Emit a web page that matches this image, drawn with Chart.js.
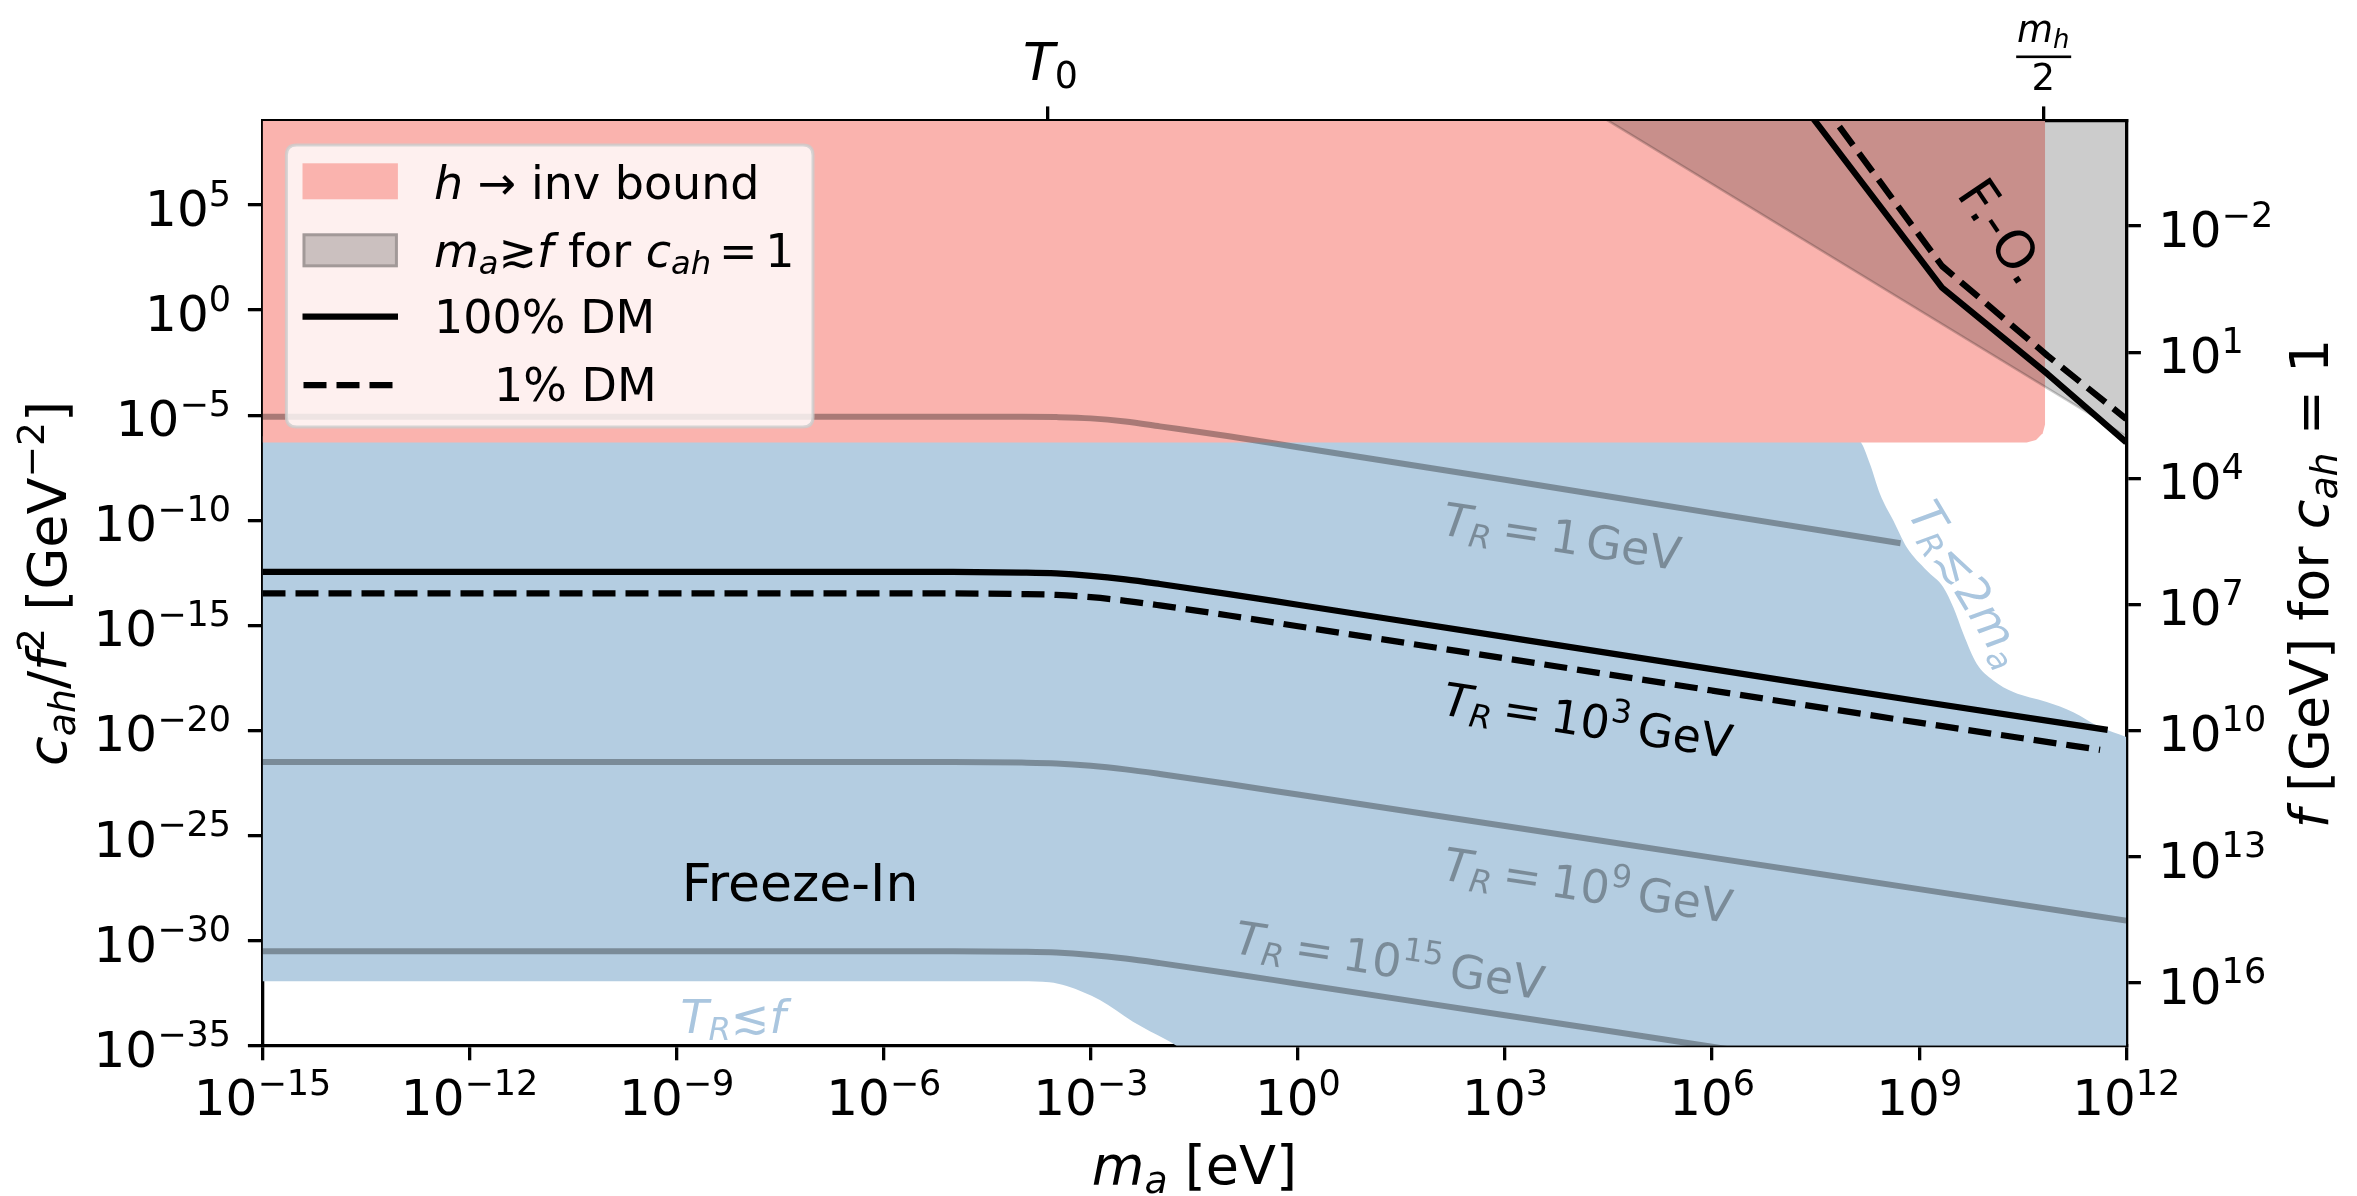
<!DOCTYPE html>
<html><head><meta charset="utf-8">
<script src="https://cdn.jsdelivr.net/npm/chart.js@4.4.1/dist/chart.umd.min.js"></script>
<style>html,body{margin:0;padding:0;background:#fff;overflow:hidden}canvas{display:block}</style>
</head><body>
<canvas id="c" width="2357" height="1196" style="width:2357px;height:1196px"></canvas>
<script>
// ---------- axis ticks ----------
const xTickValues = [1e-15, 1e-12, 1e-9, 1e-6, 1e-3, 1, 1e3, 1e6, 1e9, 1e12];
const xTickExps = ['−15', '−12', '−9', '−6', '−3', '0', '3', '6', '9', '12'];
const yTickValues = [1e5, 1, 1e-5, 1e-10, 1e-15, 1e-20, 1e-25, 1e-30, 1e-35];
const yTickExps = ['5', '0', '−5', '−10', '−15', '−20', '−25', '−30', '−35'];
const fTickValues = [1e4, 1e-2, 1e-8, 1e-14, 1e-20, 1e-26, 1e-32];
const fTickExps = ['−2', '1', '4', '7', '10', '13', '16'];
const topTickValues = [2.35e-4, 6.25e10];   // T0, m_h/2

// ---------- series ----------
const dm100X = [1e-15, 1e-5, 1e-4, 3.16e-4, 1e-3, 3.16e-3, 1e-2, 1e-1, 1, 1e3, 1e6, 1e9, 5.37e11];
const dm100Y = [3.47e-13, 3.47e-13, 3.24e-13, 2.95e-13, 2.29e-13, 1.55e-13, 9.33e-14, 3.09e-14, 9.55e-15, 2.82e-16, 8.32e-18, 2.45e-19, 1.07e-20];
const dm1X = [1e-15, 1e-5, 1e-4, 3.16e-4, 1e-3, 3.16e-3, 1e-2, 1e-1, 1, 1e3, 1e6, 1e9, 4.17e11];
const dm1Y = [3.31e-14, 3.31e-14, 3.09e-14, 2.82e-14, 2.19e-14, 1.48e-14, 8.91e-15, 2.95e-15, 9.12e-16, 2.69e-17, 7.94e-19, 2.34e-20, 1.20e-21];
const tr1X = [1e-15, 1e-5, 1e-4, 3.16e-4, 1e-3, 3.16e-3, 1e-2, 1e-1, 1, 1e3, 1e6, 5.37e8];
const tr1Y = [8.51e-6, 8.51e-6, 8.51e-6, 8.13e-6, 7.08e-6, 5.01e-6, 2.95e-6, 1.0e-6, 3.02e-7, 8.51e-9, 2.19e-10, 8.13e-12];
const tr9X = [1e-15, 1e-5, 1e-4, 3.16e-4, 1e-3, 3.16e-3, 1e-2, 1e-1, 1, 1e3, 1e6, 1e9, 1e12];
const tr9Y = [3.16e-22, 3.16e-22, 2.95e-22, 2.69e-22, 2.09e-22, 1.41e-22, 8.51e-23, 2.82e-23, 8.91e-24, 2.82e-25, 8.91e-27, 2.82e-28, 8.91e-30];
const tr15X = [1e-15, 1e-5, 1e-4, 3.16e-4, 1e-3, 3.16e-3, 1e-2, 1e-1, 1, 1e3, 1e6, 1e9];
const tr15Y = [3.16e-31, 3.16e-31, 2.95e-31, 2.69e-31, 2.09e-31, 1.41e-31, 8.51e-32, 2.82e-32, 8.91e-33, 2.82e-34, 8.91e-36, 2.82e-37];
const foSolidX = [1.82e7, 2.14e9, 7.24e10, 1e12];
const foSolidY = [1e10, 11.7, 9.12e-4, 5.13e-7];
const foDashX = [3.63e7, 2.14e9, 7.24e10, 1e12];
const foDashY = [1e10, 1.26e2, 6.76e-3, 6.61e-6];
const mafX = [1e4, 1e12];          // m_a >~ f boundary
const mafY = [1e10, 1e-6];
const hinvX = [1e-15, 3.61e10, 4.92e10, 6.15e10, 6.68e10];   // h -> inv lower edge
const hinvY = [5.1e-7, 5.1e-7, 6.61e-7, 1.38e-6, 3.80e-6];
const fiTopX = [1e-15, 1.122e8, 1.479e8, 1.936e8, 2.704e8, 4.217e8, 6.592e8, 1.285e9, 2.234e9, 3.119e9, 4.355e9, 6.808e9, 1.183e10, 2.307e10, 7.031e10, 1.706e11, 4.159e11, 1e12];
const fiTopY = [1e-6, 1e-6, 4.27e-7, 4.79e-8, 1.80e-9, 9.77e-11, 5.25e-12, 4.07e-13, 6.61e-14, 7.24e-15, 3.98e-16, 1.48e-17, 2.40e-18, 6.76e-19, 2.24e-19, 7.41e-20, 1.45e-20, 4.90e-21];
const fiBotX = [1e-15, 1e-4, 2.51e-4, 4.47e-4, 1.35e-3, 4.07e-3, 1.26e-2, 1e-1, 1e12];
const fiBotY = [1.175e-32, 1.175e-32, 1.047e-32, 6.92e-33, 1.48e-33, 1.38e-34, 1.86e-35, 5.0e-37, 5.0e-37];

// ---------- styles ----------
const FONT = '"DejaVu Sans", sans-serif';
const RED = 'rgb(250,179,174)';
const BLUE = 'rgb(180,205,225)';
const GREYREG = 'rgba(0,0,0,0.2)';
const TRGREY = 'rgba(0,0,0,0.32)';
const LIGHTBLUE = 'rgb(170,198,223)';
const LW = 6.25;

const pts = (xs, ys) => xs.map((x, i) => ({x: x, y: ys[i]}));

function setFont(ctx, size, it) { ctx.font = (it ? 'italic ' : '') + size + 'px ' + FONT; }
function pSize(p, size) { return (p.sub || p.sup) ? size * 0.7 : size; }
function richWidth(ctx, parts, size) {
  let w = 0;
  for (const p of parts) { setFont(ctx, pSize(p, size), p.it); w += ctx.measureText(p.t).width + (p.gap || 0) * size; }
  return w;
}
function drawRich(ctx, parts, x, y, size, color, align) {
  const w = richWidth(ctx, parts, size);
  let cx = align === 'center' ? x - w / 2 : (align === 'right' ? x - w : x);
  ctx.fillStyle = color; ctx.textAlign = 'left'; ctx.textBaseline = 'alphabetic';
  for (const p of parts) {
    setFont(ctx, pSize(p, size), p.it);
    const dy = p.sub ? 0.16 * size : (p.sup ? -0.41 * size : 0);
    ctx.fillText(p.t, cx, y + dy);
    cx += ctx.measureText(p.t).width + (p.gap || 0) * size;
  }
}
function drawRichRot(ctx, parts, cx, cy, size, color, deg) {
  ctx.save(); ctx.translate(cx, cy); ctx.rotate(deg * Math.PI / 180);
  drawRich(ctx, parts, 0, size * 0.36, size, color, 'center');
  ctx.restore();
}
const pow10 = (e) => [{t:'10'}, {t:e, sup:1}];
const TR = (num) => [{t:'T', it:1}, {t:'R', it:1, sub:1, gap:0.22}, {t:'=', gap:0.22}].concat(num);

const overlay = {
  id: 'overlay',
  afterDatasetsDraw(chart) {
    const ctx = chart.ctx;
    ctx.save();
    drawRich(ctx, [{t:'Freeze-In'}], 800, 901, 52, '#000', 'center');
    drawRichRot(ctx, TR([{t:'1', gap:0.14}, {t:'GeV'}]), 1562, 536, 46, TRGREY, 8.6);
    drawRichRot(ctx, TR([{t:'10'}, {t:'3', sup:1, gap:0.18}, {t:'GeV'}]), 1588, 720, 46, '#000', 8.6);
    drawRichRot(ctx, TR([{t:'10'}, {t:'9', sup:1, gap:0.18}, {t:'GeV'}]), 1588, 885, 46, TRGREY, 8.6);
    drawRichRot(ctx, TR([{t:'10'}, {t:'15', sup:1, gap:0.18}, {t:'GeV'}]), 1390, 960, 46, TRGREY, 8.6);
    drawRich(ctx, [{t:'T', it:1}, {t:'R', it:1, sub:1}, {t:'≲'}, {t:'f', it:1}], 733, 1033, 46, LIGHTBLUE, 'center');
    drawRichRot(ctx, [{t:'T', it:1}, {t:'R', it:1, sub:1}, {t:'≲'}, {t:'2'}, {t:'m', it:1}, {t:'a', it:1, sub:1}], 1968, 583, 46, LIGHTBLUE, 59);
    drawRichRot(ctx, [{t:'F.-O.'}], 2003, 231, 52, '#000', 56);
    ctx.restore();
  },
  afterDraw(chart) {
    const ctx = chart.ctx;
    const {x: xs, y: ys, y2: fs} = chart.scales;
    const area = chart.chartArea;
    ctx.save();
    // tick labels
    xTickValues.forEach((v, i) => drawRich(ctx, pow10(xTickExps[i]), xs.getPixelForValue(v), area.bottom + 69.3, 50, '#000', 'center'));
    yTickValues.forEach((v, i) => drawRich(ctx, pow10(yTickExps[i]), area.left - 31.5, ys.getPixelForValue(v) + 21, 50, '#000', 'right'));
    fTickValues.forEach((v, i) => drawRich(ctx, pow10(fTickExps[i]), area.right + 31.7, fs.getPixelForValue(v) + 21, 50, '#000', 'left'));
    // axis titles
    drawRich(ctx, [{t:'m', it:1}, {t:'a', it:1, sub:1}, {t:' [eV]'}], (area.left + area.right) / 2, 1184, 54, '#000', 'center');
    const cy = (area.top + area.bottom) / 2;
    ctx.save(); ctx.translate(66, cy); ctx.rotate(-Math.PI / 2);
    drawRich(ctx, [{t:'c', it:1}, {t:'ah', it:1, sub:1}, {t:'/'}, {t:'f', it:1}, {t:'2', sup:1}, {t:' [GeV'}, {t:'−2', sup:1}, {t:']'}], 0, 0, 54, '#000', 'center');
    ctx.restore();
    ctx.save(); ctx.translate(2328, cy); ctx.rotate(-Math.PI / 2);
    drawRich(ctx, [{t:'f', it:1}, {t:' [GeV] for '}, {t:'c', it:1}, {t:'ah', it:1, sub:1}, {t:' = 1'}], 0, 0, 54, '#000', 'center');
    ctx.restore();
    // top axis labels
    const t0 = xs.getPixelForValue(topTickValues[0]);
    drawRich(ctx, [{t:'T', it:1}, {t:'0', sub:1}], t0 + 3, 80, 52, '#000', 'center');
    const mh = xs.getPixelForValue(topTickValues[1]);
    drawRich(ctx, [{t:'m', it:1}, {t:'h', it:1, sub:1}], mh, 42, 37, '#000', 'center');
    ctx.fillStyle = '#000'; ctx.fillRect(mh - 27, 55.5, 55, 2.6);
    drawRich(ctx, [{t:'2'}], mh, 90, 37, '#000', 'center');
    // legend
    const L = 286.4, T = 145, W = 526.6, H = 282, R = 10;
    ctx.beginPath();
    ctx.moveTo(L + R, T); ctx.lineTo(L + W - R, T); ctx.quadraticCurveTo(L + W, T, L + W, T + R);
    ctx.lineTo(L + W, T + H - R); ctx.quadraticCurveTo(L + W, T + H, L + W - R, T + H);
    ctx.lineTo(L + R, T + H); ctx.quadraticCurveTo(L, T + H, L, T + H - R);
    ctx.lineTo(L, T + R); ctx.quadraticCurveTo(L, T, L + R, T); ctx.closePath();
    ctx.fillStyle = 'rgba(255,255,255,0.8)'; ctx.fill();
    ctx.strokeStyle = 'rgba(204,204,204,0.8)'; ctx.lineWidth = 3; ctx.stroke();
    ctx.fillStyle = RED; ctx.fillRect(302.5, 163.3, 95.4, 36);
    ctx.fillStyle = GREYREG; ctx.fillRect(302.5, 233.3, 95.4, 34);
    ctx.strokeStyle = GREYREG; ctx.lineWidth = 3; ctx.strokeRect(304, 234.8, 92.4, 31);
    ctx.strokeStyle = '#000'; ctx.lineWidth = LW; ctx.lineCap = 'butt';
    ctx.beginPath(); ctx.moveTo(302.5, 316.7); ctx.lineTo(398, 316.7); ctx.stroke();
    ctx.setLineDash([23, 10]);
    ctx.beginPath(); ctx.moveTo(303.5, 385); ctx.lineTo(398, 385); ctx.stroke();
    ctx.setLineDash([]);
    drawRich(ctx, [{t:'h', it:1}, {t:' → inv bound'}], 434, 199, 46, '#000', 'left');
    drawRich(ctx, [{t:'m', it:1}, {t:'a', it:1, sub:1}, {t:'≳'}, {t:'f', it:1}, {t:' for '}, {t:'c', it:1}, {t:'ah', it:1, sub:1, gap:0.17}, {t:'=', gap:0.17}, {t:'1'}], 434, 266.7, 46, '#000', 'left');
    drawRich(ctx, [{t:'100% DM'}], 434, 333, 46, '#000', 'left');
    drawRich(ctx, [{t:'1% DM'}], 494, 400.7, 46, '#000', 'left');
    ctx.restore();
  }
};

function lineDS(xs, ys, color, extra) {
  return Object.assign({data: pts(xs, ys), borderColor: color, borderWidth: LW, pointRadius: 0,
    fill: false, clip: 0, cubicInterpolationMode: 'monotone', borderCapStyle: 'butt', borderJoinStyle: 'round'}, extra || {});
}

const gridCfg = {drawOnChartArea: false, drawTicks: true, tickLength: 14.6, tickWidth: 3.3, tickColor: '#000', color: '#000', lineWidth: 3.3};
const borderCfg = {display: true, color: '#000', width: 3.3};
const noLabels = {display: false, autoSkip: false, maxRotation: 0, minRotation: 0};

Chart.defaults.font.family = FONT;
Chart.defaults.color = '#000';

new Chart(document.getElementById('c'), {
  type: 'line',
  data: {
    datasets: [
      lineDS(foSolidX, foSolidY, '#000', {label: 'F.-O. 100% DM', tension: 0, cubicInterpolationMode: 'default'}),
      lineDS(foDashX, foDashY, '#000', {label: 'F.-O. 1% DM', tension: 0, cubicInterpolationMode: 'default', borderDash: [23, 10]}),
      lineDS(dm100X, dm100Y, '#000', {label: '100% DM'}),
      lineDS(dm1X, dm1Y, '#000', {label: '1% DM', borderDash: [23, 10]}),
      {label: 'm_a ≳ f for c_ah = 1', data: pts(mafX, mafY), borderColor: GREYREG, borderWidth: 2.5, backgroundColor: GREYREG,
       fill: 'end', pointRadius: 0, tension: 0, clip: 0},
      lineDS(tr1X, tr1Y, TRGREY, {label: 'T_R = 1 GeV', borderWidth: 6}),
      lineDS(tr9X, tr9Y, TRGREY, {label: 'T_R = 10^9 GeV', borderWidth: 6}),
      lineDS(tr15X, tr15Y, TRGREY, {label: 'T_R = 10^15 GeV', borderWidth: 6}),
      {label: 'h → inv bound', data: pts(hinvX, hinvY), borderWidth: 0, borderColor: 'rgba(0,0,0,0)', backgroundColor: RED,
       fill: 'end', pointRadius: 0, tension: 0, clip: 0},
      {label: 'Freeze-In', data: pts(fiTopX, fiTopY), borderWidth: 0, borderColor: 'rgba(0,0,0,0)', backgroundColor: BLUE,
       fill: '+1', pointRadius: 0, cubicInterpolationMode: 'monotone', clip: 0},
      {label: 'Freeze-In lower', data: pts(fiBotX, fiBotY), borderWidth: 0, borderColor: 'rgba(0,0,0,0)',
       fill: false, pointRadius: 0, cubicInterpolationMode: 'monotone', clip: 0}
    ]
  },
  options: {
    responsive: false, devicePixelRatio: 1, animation: false, events: [],
    layout: {padding: 0},
    plugins: {legend: {display: false}, tooltip: {enabled: false}},
    scales: {
      x: {type: 'logarithmic', position: 'bottom', min: 1e-15, max: 1e12, z: 1,
        afterBuildTicks: s => { s.ticks = xTickValues.map(v => ({value: v})); },
        afterFit: s => { s.height = 150.3; },
        ticks: noLabels, grid: gridCfg, border: borderCfg},
      x2: {type: 'logarithmic', position: 'top', min: 1e-15, max: 1e12, z: 1,
        afterBuildTicks: s => { s.ticks = topTickValues.map(v => ({value: v})); },
        afterFit: s => { s.height = 121; },
        ticks: noLabels, grid: gridCfg, border: borderCfg},
      y: {type: 'logarithmic', position: 'left', min: 1e-35, max: 1e9, z: 1,
        afterBuildTicks: s => { s.ticks = yTickValues.map(v => ({value: v})); },
        afterFit: s => { s.width = 262.5; },
        ticks: noLabels, grid: gridCfg, border: borderCfg},
      y2: {type: 'logarithmic', position: 'right', min: 1e-35, max: 1e9, z: 1,
        afterBuildTicks: s => { s.ticks = fTickValues.map(v => ({value: v})); },
        afterFit: s => { s.width = 230.7; },
        ticks: noLabels, grid: gridCfg, border: borderCfg}
    }
  },
  plugins: [overlay]
});
</script>
</body></html>
